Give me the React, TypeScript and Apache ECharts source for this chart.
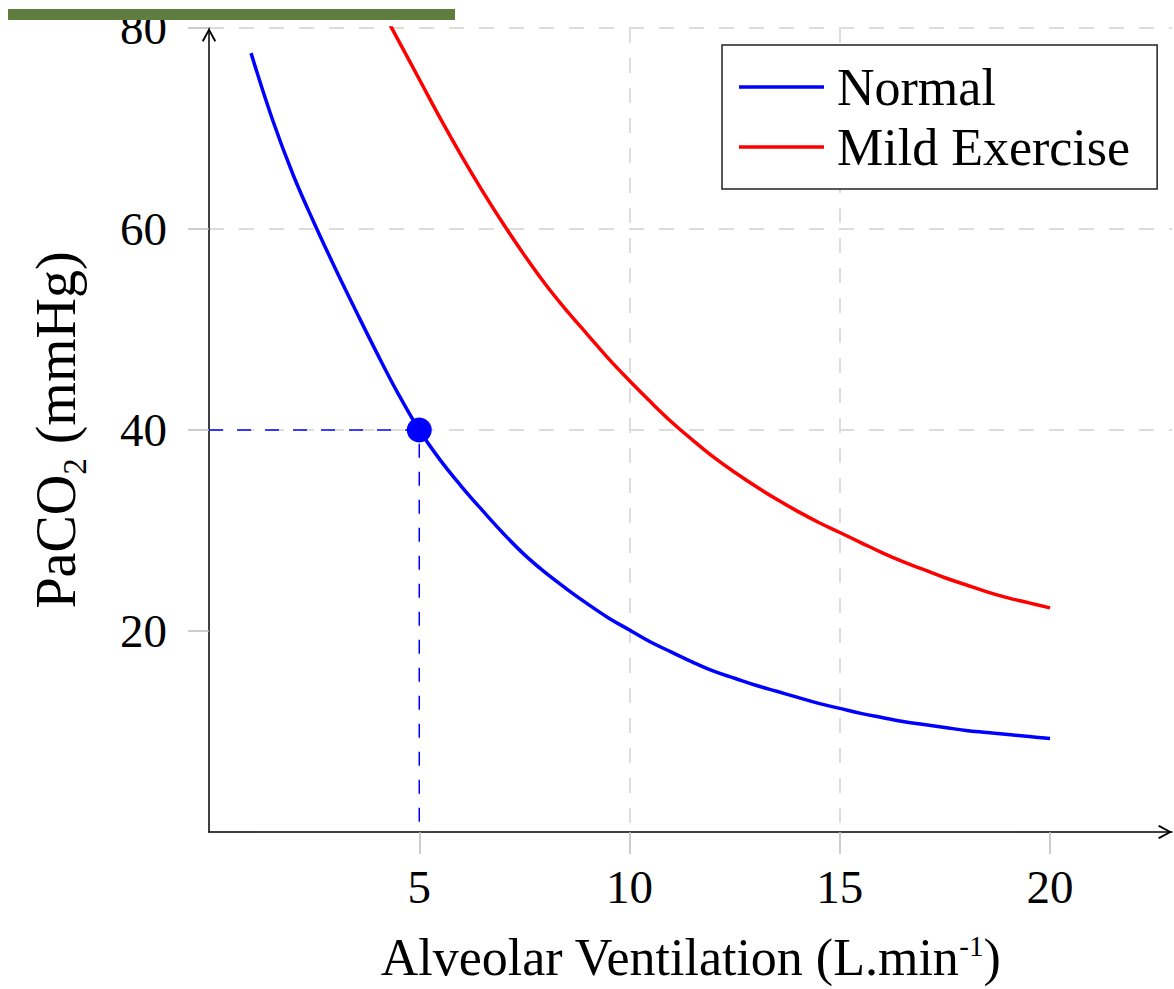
import React, { useEffect, useRef } from "react";
import * as echarts from "echarts";

const FONT = "'Liberation Serif', 'Times New Roman', serif";

const xTicks = [5, 10, 15, 20];
const yTicks = [20, 40, 60, 80];

const seriesNames = ["Normal", "Mild Exercise"];

const normalX = [1, 1.5, 2, 2.5, 3, 3.5, 4, 4.5, 5, 5.5, 6, 6.5, 7, 7.5, 8, 8.5, 9, 9.5, 10, 10.5, 11, 11.5, 12, 12.5, 13, 13.5, 14, 14.5, 15, 15.5, 16, 16.5, 17, 17.5, 18, 18.5, 19, 19.5, 20];
const normalY = [77.5, 71.0, 65.4, 60.6, 56.1, 51.8, 47.6, 43.6, 40.0, 37.0, 34.4, 32.0, 29.7, 27.6, 25.8, 24.2, 22.7, 21.3, 20.1, 18.9, 17.9, 16.9, 16.0, 15.3, 14.6, 14.0, 13.4, 12.8, 12.3, 11.8, 11.4, 11.0, 10.7, 10.4, 10.1, 9.9, 9.7, 9.5, 9.3];

const exerciseX = [4, 4.5, 5, 5.5, 6, 6.5, 7, 7.5, 8, 8.5, 9, 9.5, 10, 10.5, 11, 11.5, 12, 12.5, 13, 13.5, 14, 14.5, 15, 15.5, 16, 16.5, 17, 17.5, 18, 18.5, 19, 19.5, 20];
const exerciseY = [82.7, 78.8, 74.9, 71.0, 67.3, 63.8, 60.5, 57.4, 54.5, 51.9, 49.5, 47.1, 44.9, 42.8, 40.8, 39.0, 37.3, 35.8, 34.4, 33.1, 31.9, 30.8, 29.8, 28.8, 27.8, 26.9, 26.1, 25.3, 24.6, 23.9, 23.3, 22.8, 22.3];

const markerX = 5;
const markerY = 40;

const pairs = (xs: number[], ys: number[]) => xs.map((x, i) => [x, ys[i]]);

export default function App() {
  const ref = useRef<HTMLDivElement>(null);

  useEffect(() => {
    if (!ref.current) return;
    const chart = echarts.init(ref.current, null, { renderer: "svg" });
    const arrow = "path://M5,0 L10,9 L9,10 L5,2.6 L1,10 L0,9 Z";
    const axisLineStyle = { color: "#000", width: 1.5 };
    const tickStyle = { color: "#bbb", width: 1.5 };
    const gridStyle = { color: "#dcdcdc", width: 2, type: [15, 15] };

    chart.setOption({
      animation: false,
      backgroundColor: "#fff",
      grid: {
        left: 209,
        right: 2,
        top: 28,
        bottom: 157,
        containLabel: false,
        outerBoundsMode: "none",
      },
      legend: {
        data: seriesNames,
        orient: "vertical",
        left: 722,
        top: 45,
        padding: [12, 27, 12, 17],
        itemGap: 0,
        itemWidth: 85,
        itemHeight: 3.5,
        icon: "rect",
        backgroundColor: "#fff",
        borderColor: "#222",
        borderWidth: 1.5,
        borderRadius: 0,
        textStyle: {
          fontFamily: FONT,
          fontSize: 52,
          color: "#000",
          lineHeight: 60,
          padding: [0, 0, 0, 8],
        },
      },
      xAxis: {
        type: "value",
        min: 0,
        max: 22.9,
        interval: 5,
        axisLine: {
          show: true,
          onZero: false,
          symbol: ["none", arrow],
          symbolSize: [14, 14],
          symbolOffset: [0, -7],
          lineStyle: axisLineStyle,
        },
        axisTick: { show: true, customValues: xTicks, length: 22, lineStyle: tickStyle },
        axisLabel: { customValues: xTicks, margin: 31, fontFamily: FONT, fontSize: 47, color: "#000" },
        splitLine: { show: true, showMinLine: false, showMaxLine: false, lineStyle: gridStyle },
        name: "{n|Alveolar Ventilation (L.min}{sup|-1}{n|)}",
        nameLocation: "middle",
        nameGap: 99,
        nameMoveOverlap: false,
        nameTextStyle: {
          rich: {
            n: { fontFamily: FONT, fontSize: 52, color: "#000", lineHeight: 52, verticalAlign: "middle" },
            sup: { fontFamily: FONT, fontSize: 29, color: "#000", lineHeight: 29, verticalAlign: "top" },
          },
        },
      },
      yAxis: {
        type: "value",
        min: 0,
        max: 80,
        interval: 20,
        axisLine: {
          show: true,
          onZero: false,
          symbol: ["none", arrow],
          symbolSize: [14, 14],
          symbolOffset: [0, -7],
          lineStyle: axisLineStyle,
        },
        axisTick: { show: true, customValues: yTicks, length: 21, lineStyle: tickStyle },
        axisLabel: { customValues: yTicks, margin: 42, fontFamily: FONT, fontSize: 47, color: "#000" },
        splitLine: { show: true, showMinLine: false, showMaxLine: true, lineStyle: gridStyle },
        name: "{n|PaCO}{sub|2}{n| (mmHg)}",
        nameLocation: "middle",
        nameGap: 118,
        nameMoveOverlap: false,
        nameTextStyle: {
          rich: {
            n: { fontFamily: FONT, fontSize: 56, color: "#000", lineHeight: 70, verticalAlign: "middle" },
            sub: { fontFamily: FONT, fontSize: 33, color: "#000", lineHeight: 52, verticalAlign: "bottom" },
          },
        },
      },
      series: [
        {
          name: seriesNames[0],
          type: "line",
          data: pairs(normalX, normalY),
          smooth: 0.4,
          symbol: "none",
          showSymbol: false,
          lineStyle: { color: "#0000ff", width: 3.5 },
          itemStyle: { color: "#0000ff" },
          z: 4,
        },
        {
          name: seriesNames[1],
          type: "line",
          data: pairs(exerciseX, exerciseY),
          smooth: 0.4,
          symbol: "none",
          showSymbol: false,
          lineStyle: { color: "#ff0000", width: 3.5 },
          itemStyle: { color: "#ff0000" },
          z: 4,
        },
        {
          name: "guide",
          type: "line",
          data: [
            [0, markerY],
            [markerX, markerY],
            [markerX, 0],
          ],
          symbol: "none",
          showSymbol: false,
          silent: true,
          lineStyle: { color: "#0000ff", width: 1.5, type: [14, 14] },
          z: 3,
        },
        {
          name: "point",
          type: "scatter",
          data: [[markerX, markerY]],
          symbolSize: 25,
          itemStyle: { color: "#0000ff", opacity: 1 },
          silent: true,
          z: 5,
        },
      ],
      graphic: [
        {
          type: "rect",
          shape: { x: 8, y: 9, width: 447, height: 11 },
          style: { fill: "#5f7d3f" },
          z: 100,
        },
      ],
    });
    return () => chart.dispose();
  }, []);

  return (
    <div
      ref={ref}
      style={{ position: "absolute", left: 0, top: 0, width: 1174, height: 989, background: "#fff" }}
    />
  );
}
